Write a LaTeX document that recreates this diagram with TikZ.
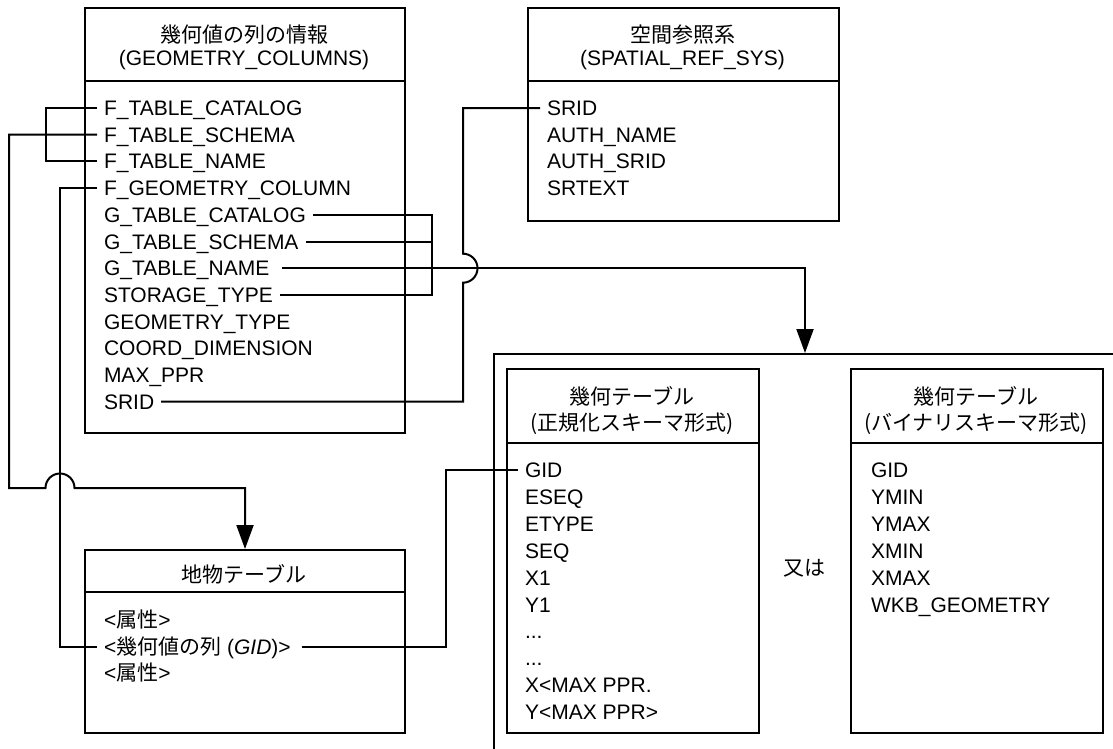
\documentclass[tikz,border=0pt]{standalone}
\usepackage{fontspec}
\setmainfont{Liberation Sans}
\newfontfamily\jp{Noto Sans CJK JP}
\usetikzlibrary{arrows.meta}
\begin{document}
\begin{tikzpicture}[x=1bp,y=1bp,line width=2bp,
  tbl/.style={draw,rectangle,inner sep=0pt,anchor=north west},
  fld/.style={anchor=west,inner xsep=6bp,inner ysep=0pt,text height=15bp,text depth=0pt,font=\fontsize{21bp}{26bp}\selectfont},
  hdr/.style={anchor=center,inner sep=0pt,text height=15bp,text depth=0pt,font=\fontsize{21bp}{26bp}\selectfont},
  arr/.style={-{Triangle[length=24bp,width=17bp]}}]
\useasboundingbox (0,0) rectangle (1113,-749);
% ---------- GEOMETRY_COLUMNS ----------
\node[tbl,minimum width=320bp,minimum height=425bp] (gc) at (84,-7) {};
\draw (84,-81) -- (404,-81);
\node[hdr] (gch1) at (244,-35) {\jp 幾何値の列の情報};
\node[hdr] (gch2) at (244,-58) {(GEOMETRY\_COLUMNS)};
\node[fld] (gc1) at (97,-108) {F\_TABLE\_CATALOG};
\node[fld] (gc2) at (97,-134.7) {F\_TABLE\_SCHEMA};
\node[fld] (gc3) at (97,-161.4) {F\_TABLE\_NAME};
\node[fld] (gc4) at (97,-188.1) {F\_GEOMETRY\_COLUMN};
\node[fld] (gc5) at (97,-214.8) {G\_TABLE\_CATALOG};
\node[fld] (gc6) at (97,-241.5) {G\_TABLE\_SCHEMA};
\node[fld] (gc7) at (97,-268.2) {G\_TABLE\_NAME};
\node[fld] (gc8) at (97,-294.9) {STORAGE\_TYPE};
\node[fld] (gc9) at (97,-321.6) {GEOMETRY\_TYPE};
\node[fld] (gc10) at (97,-348.3) {COORD\_DIMENSION};
\node[fld] (gc11) at (97,-375.0) {MAX\_PPR};
\node[fld] (gc12) at (97,-401.7) {SRID};
% ---------- SPATIAL_REF_SYS ----------
\node[tbl,minimum width=311bp,minimum height=213bp] (sr) at (527,-7) {};
\draw (527,-81) -- (838,-81);
\node[hdr] (srh1) at (682.5,-35) {\jp 空間参照系};
\node[hdr] (srh2) at (682.5,-58) {(SPATIAL\_REF\_SYS)};
\node[fld] (sr1) at (540,-108) {SRID};
\node[fld] (sr2) at (540,-134.7) {AUTH\_NAME};
\node[fld] (sr3) at (540,-161.4) {AUTH\_SRID};
\node[fld] (sr4) at (540,-188.1) {SRTEXT};
% ---------- feature table ----------
\node[tbl,minimum width=320bp,minimum height=183bp] (ft) at (84,-549) {};
\draw (84,-592) -- (404,-592);
\node[hdr] (fth) at (244,-575) {\jp 地物テーブル};
\node[fld] (ft1) at (97,-620) {<{\jp 属性}>};
\node[fld] (ft2) at (97,-646.5) {<{\jp 幾何値の列} (\textit{GID})>};
\node[fld] (ft3) at (97,-673) {<{\jp 属性}>};
% ---------- outer container ----------
\node[tbl,minimum width=624bp,minimum height=396bp] (outer) at (493,-353) {};
% left geometry table
\node[tbl,minimum width=252bp,minimum height=364bp] (lt) at (506,-368) {};
\draw (506,-443) -- (758,-443);
\node[hdr] (lth1) at (632,-397) {\jp 幾何テーブル};
\node[hdr] (lth2) at (632,-423) {\jp (正規化スキーマ形式)};
\node[fld] (lt1) at (518,-470) {GID};
\node[fld] (lt2) at (518,-496.9) {ESEQ};
\node[fld] (lt3) at (518,-523.8) {ETYPE};
\node[fld] (lt4) at (518,-550.7) {SEQ};
\node[fld] (lt5) at (518,-577.6) {X1};
\node[fld] (lt6) at (518,-604.5) {Y1};
\node[fld] (lt7) at (518,-631.4) {...};
\node[fld] (lt8) at (518,-658.3) {...};
\node[fld] (lt9) at (518,-685.2) {X<MAX PPR.};
\node[fld] (lt10) at (518,-712.1) {Y<MAX PPR>};
% or
\node[hdr] (or) at (804,-568) {\jp 又は};
% right geometry table
\node[tbl,minimum width=252bp,minimum height=364bp] (rt) at (850,-368) {};
\draw (850,-443) -- (1102,-443);
\node[hdr] (rth1) at (976,-397) {\jp 幾何テーブル};
\node[hdr] (rth2) at (976,-423) {\jp (バイナリスキーマ形式)};
\node[fld] (rt1) at (864,-470) {GID};
\node[fld] (rt2) at (864,-496.9) {YMIN};
\node[fld] (rt3) at (864,-523.8) {YMAX};
\node[fld] (rt4) at (864,-550.7) {XMIN};
\node[fld] (rt5) at (864,-577.6) {XMAX};
\node[fld] (rt6) at (864,-604.5) {WKB\_GEOMETRY};
% ---------- connectors ----------
\draw (gc1.west) -- ++(-51,0) |- (gc3.west);
\draw[arr] (gc2.west) -- ++(-88,0) |- (45.5,-488) arc[start angle=180,end angle=0,radius=14.5bp] -| (ft.north);
\draw (gc4.west) -- ++(-37,0) |- (ft2.west);
\coordinate (gb) at (432,-214.8);
\draw (gc5.east) -- (gb) |- (gc8.east);
\draw (gc6.east) -- (gc6.east -| gb);
\coordinate (tgt) at (805,-353);
\draw[arr] ([xshift=6bp]gc7.east) -| (tgt);
\draw (gc12.east) -| (463,-282.7) arc[start angle=-90,end angle=90,radius=14.5bp] |- (sr1.west);
\draw ([xshift=4bp]ft2.east) -| (446,-470) -- (lt1.west);
\end{tikzpicture}
\end{document}
